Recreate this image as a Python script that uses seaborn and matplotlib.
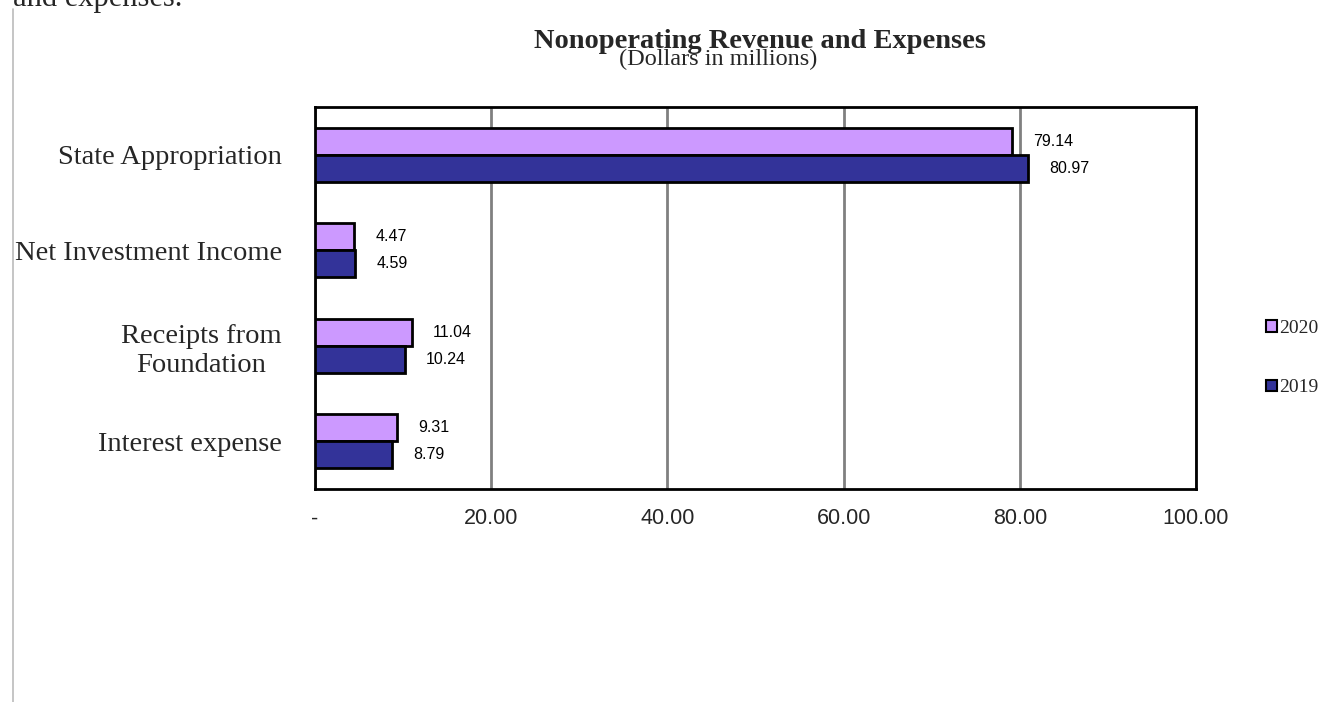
import matplotlib
matplotlib.use("Agg")
import matplotlib.pyplot as plt
import seaborn as sns
import pandas as pd
from matplotlib.patches import Patch
from matplotlib.lines import Line2D

categories = ["State Appropriation", "Net Investment Income", "Receipts from\nFoundation", "Interest expense"]
years = ["2020", "2019"]
values_2020 = [79.14, 4.47, 11.04, 9.31]
values_2019 = [80.97, 4.59, 10.24, 8.79]
xticks = [0, 20, 40, 60, 80, 100]
xticklabels = ["-", "20.00", "40.00", "60.00", "80.00", "100.00"]
colors = {"2020": "#CC99FF", "2019": "#333399"}

rows = []
for c, v in zip(categories, values_2020):
    rows.append({"category": c, "year": "2020", "value": v})
for c, v in zip(categories, values_2019):
    rows.append({"category": c, "year": "2019", "value": v})
df = pd.DataFrame(rows)

sns.set_style("white")
plt.rcParams["font.family"] = ["Liberation Serif", "DejaVu Serif"]

fig = plt.figure(figsize=(13.31, 7.02), dpi=100)
ax = fig.add_axes([315/1331, 1-489/702, (1196-315)/1331, (489-107)/702])

sns.barplot(data=df, y="category", x="value", hue="year", order=categories,
            hue_order=years, palette=colors, saturation=1, orient="h", width=0.57,
            edgecolor="black", linewidth=2, ax=ax, legend=False, zorder=3)

ax.set_xlim(0, 100)
ax.set_ylim(3.5, -0.5)
ax.set_xticks(xticks)
ax.set_xticklabels(xticklabels, fontfamily="Liberation Sans", fontsize=15.5)
ax.tick_params(axis="x", length=7, width=1, color="#808080", pad=7, direction="out")
ax.tick_params(axis="y", length=0, pad=24)
for lbl in ax.get_yticklabels():
    lbl.set_fontsize(20.5)
    lbl.set_fontfamily("Liberation Serif")
    lbl.set_horizontalalignment("right")
    lbl.set_multialignment("center")
ax.set_xlabel("")
ax.set_ylabel("")
ax.grid(axis="x", color="#808080", linewidth=2, zorder=0)
ax.set_axisbelow(True)
for s in ax.spines.values():
    s.set_color("black")
    s.set_linewidth(2)
    s.set_visible(True)

# value labels
for container, vals in zip(ax.containers, [values_2020, values_2019]):
    for bar, v in zip(container, vals):
        y = bar.get_y() + bar.get_height() / 2
        ax.annotate(f"{v:.2f}", xy=(bar.get_width(), y), xytext=(15, 0),
                    textcoords="offset points", va="center", ha="left",
                    fontsize=11.5, fontfamily="Liberation Sans", color="black")

# title
fig.text(760/1331, 1 - 48/702, "Nonoperating Revenue and Expenses", ha="center", va="baseline",
         fontsize=20.5, fontweight="bold", fontfamily="Liberation Serif")
fig.text(718/1331, 1 - 65/702, "(Dollars in millions)", ha="center", va="baseline",
         fontsize=17.5, fontfamily="Liberation Serif")

# legend
handles = [Patch(facecolor=colors[y], edgecolor="black", linewidth=1.5) for y in years]
leg = fig.legend(handles, years, loc="center left", bbox_to_anchor=(1266/1331, 1 - 358/702),
                 frameon=False, borderpad=0, borderaxespad=0,
                 handlelength=0.55, handleheight=0.55, handletextpad=0.15,
                 labelspacing=2.2, prop={"family": "Liberation Serif", "size": 14})

# page fragments
fig.add_artist(Line2D([13/1331, 13/1331], [0, 1 - 9/702], color="#BBBBBB", linewidth=1.2))
fig.text(13/1331, 1 - 6/702, "and expenses.", ha="left", va="baseline",
         fontsize=22, fontfamily="Liberation Serif")

fig.savefig("out.png", dpi=100)
